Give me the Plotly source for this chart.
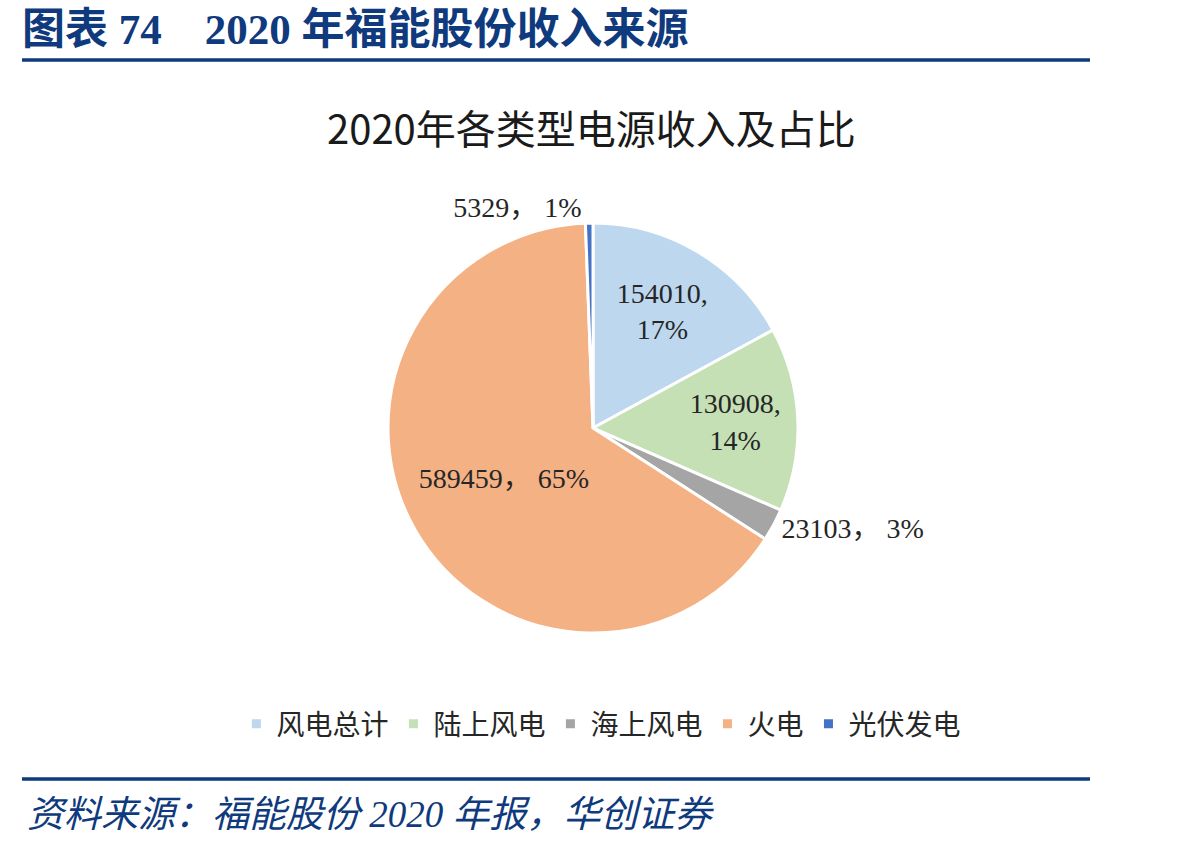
import plotly.graph_objects as go

labels = ["风电总计", "陆上风电", "海上风电", "火电", "光伏发电"]
values = [154010, 130908, 23103, 589459, 5329]
pct_labels = [17, 14, 3, 65, 1]
colors = ["#BDD7EE", "#C5E0B4", "#A5A5A5", "#F4B183", "#4472C4"]
positions = ["inside", "inside", "outside", "inside", "outside"]
two_line = [True, True, False, False, False]

texts = []
for v, p, tl in zip(values, pct_labels, two_line):
    texts.append(f"{v},<br>{p}%" if tl else f"{v}， {p}%")

NAVY = "#0F3A7D"
NUMFONT = "Liberation Serif, Noto Sans CJK SC"

fig = go.Figure()
fig.add_trace(go.Pie(
    labels=labels, values=values, text=texts, textinfo="text",
    textposition=positions, insidetextorientation="horizontal",
    sort=False, direction="clockwise", rotation=0,
    marker=dict(colors=colors, line=dict(color="white", width=3)),
    textfont=dict(family=NUMFONT, size=28, color="#262626"),
    domain=dict(x=[0.3239, 0.6661], y=[0.2535, 0.737]),
    hoverinfo="label+value+percent",
))

fig.update_layout(
    width=1198, height=848,
    margin=dict(l=0, r=0, t=0, b=0),
    paper_bgcolor="white", plot_bgcolor="white",
    showlegend=True,
    legend=dict(orientation="h", x=0.502, xanchor="center", y=1 - 724 / 848, yanchor="middle",
                font=dict(family="Noto Sans CJK SC", size=28, color="#262626"),
                itemwidth=30, traceorder="normal"),
)

fig.add_annotation(text="2020年各类型电源收入及占比", x=591 / 1198, y=1 - 127 / 848,
                   xref="paper", yref="paper", showarrow=False,
                   font=dict(family="Noto Sans CJK SC", size=40, color="#1a1a1a"),
                   xanchor="center", yanchor="middle")
fig.add_annotation(text="<b>图表 74    2020 年福能股份收入来源</b>", x=20 / 1198, y=1 - 29 / 848,
                   xref="paper", yref="paper", showarrow=False,
                   font=dict(family="Liberation Serif, Noto Sans CJK SC", size=43, color=NAVY),
                   xanchor="left", yanchor="middle")
fig.add_annotation(text="<i>资料来源：福能股份 2020 年报，华创证券</i>", x=25 / 1198, y=1 - 814 / 848,
                   xref="paper", yref="paper", showarrow=False,
                   font=dict(family="Liberation Serif, Noto Sans CJK SC", size=37, color=NAVY),
                   xanchor="left", yanchor="middle")
fig.add_shape(type="line", xref="paper", yref="paper",
              x0=22 / 1198, x1=1090 / 1198, y0=1 - 60 / 848, y1=1 - 60 / 848,
              line=dict(color=NAVY, width=3.5))
fig.add_shape(type="line", xref="paper", yref="paper",
              x0=22 / 1198, x1=1090 / 1198, y0=1 - 779 / 848, y1=1 - 779 / 848,
              line=dict(color=NAVY, width=3.5))

fig.write_html("out.html")
